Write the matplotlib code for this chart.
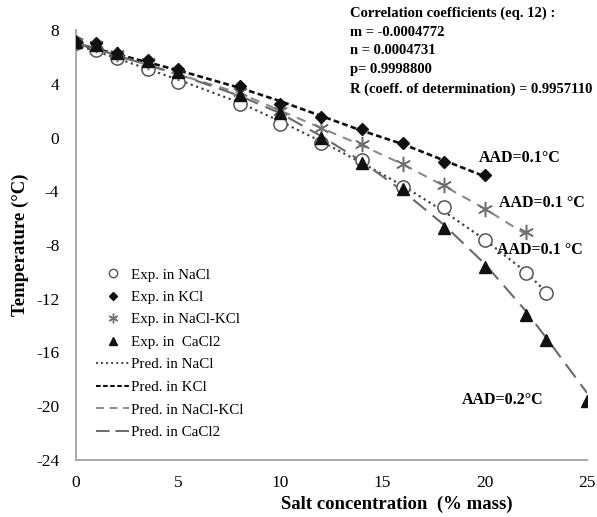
import matplotlib
matplotlib.use("Agg")
import matplotlib.pyplot as plt
from matplotlib.lines import Line2D

plt.rcParams['font.family'] = ['Liberation Serif', 'DejaVu Serif']
plt.rcParams['axes.unicode_minus'] = False

# Experimental freezing temperatures (°C) vs salt concentration (% mass)
x_nacl = [0, 1, 2, 3.5, 5, 8, 10, 12, 14, 16, 18, 20, 22, 23]
t_nacl = [7.0, 6.5, 5.9, 5.1, 4.1, 2.5, 1.0, -0.4, -1.7, -3.7, -5.2, -7.6, -10.1, -11.6]

x_kcl = [0, 1, 2, 3.5, 5, 8, 10, 12, 14, 16, 18, 20]
t_kcl = [7.1, 7.0, 6.3, 5.8, 5.1, 3.8, 2.5, 1.5, 0.6, -0.4, -1.8, -2.8]

x_mix = [0, 1, 2, 3.5, 5, 8, 10, 12, 14, 16, 18, 20, 22]
t_mix = [7.1, 6.9, 6.2, 5.6, 4.8, 3.4, 2.0, 0.7, -0.5, -2.0, -3.5, -5.3, -7.0]

x_cacl2 = [0, 1, 2, 3.5, 5, 8, 10, 12, 14, 16, 18, 20, 22, 23, 25]
t_cacl2 = [7.1, 6.9, 6.3, 5.7, 4.9, 3.2, 1.8, 0.0, -1.9, -3.8, -6.7, -9.6, -13.2, -15.1, -19.6]

# Predicted temperatures (eq. 12)
p_nacl = [6.9, 6.4, 5.9, 5.1, 4.3, 2.6, 1.2, -0.3, -1.9, -3.6, -5.5, -7.6, -10.0, -11.5]
p_kcl = [7.0, 6.6, 6.2, 5.6, 5.0, 3.7, 2.7, 1.6, 0.5, -0.5, -1.7, -2.9]
p_mix = [7.0, 6.6, 6.1, 5.4, 4.7, 3.3, 2.0, 0.7, -0.6, -2.0, -3.6, -5.3, -7.2]
p_cacl2 = [7.0, 6.6, 6.1, 5.4, 4.7, 3.1, 1.8, 0.1, -1.8, -4.0, -6.5, -9.4, -12.9, -14.9, -19.0]

x_ticks = [0, 5, 10, 15, 20, 25]
y_ticks = [-24, -20, -16, -12, -8, -4, 0, 4, 8]

coef_lines = ["Correlation coefficients (eq. 12) :",
              "m = -0.0004772",
              "n = 0.0004731",
              "p= 0.9998800",
              "R (coeff. of determination) = 0.9957110"]

W, H = 597, 517
fig = plt.figure(figsize=(W / 100, H / 100), dpi=100)
ax = fig.add_axes([76 / W, 1 - 460 / H, (587 - 76) / W, (460 - 30) / H])

# prediction curves
ax.plot(x_nacl, p_nacl, color='#444444', lw=1.6, ls=(0, (1, 1.6)), zorder=2)
ax.plot(x_kcl, p_kcl, color='#111111', lw=1.9, ls=(0, (2.2, 1.2)), zorder=2)
ax.plot(x_mix, p_mix, color='#8a8a8a', lw=1.5, ls=(0, (4.5, 3.5)), zorder=2)
ax.plot(x_cacl2, p_cacl2, color='#6a6a6a', lw=1.5, ls=(0, (8, 4)), zorder=2)

# experimental points
ax.plot(x_nacl, t_nacl, ls='none', marker='o', ms=9.5, mfc='white', mec='#555555',
        mew=1.1, zorder=3)
ax.plot(x_mix, t_mix, ls='none', marker=(6, 2, 0), ms=11, mec='#6f6f6f',
        mew=1.1, zorder=4)
ax.plot(x_cacl2, t_cacl2, ls='none', marker='^', ms=8.5, color='#111111', zorder=5)
ax.plot(x_kcl, t_kcl, ls='none', marker='D', ms=6.5, color='#111111', zorder=5)

ax.set_xlim(0, 25)
ax.set_ylim(-24, 8)
ax.set_xticks(x_ticks)
ax.set_yticks(y_ticks)
ax.tick_params(length=0, labelsize=12.5)
ax.tick_params(axis='y', pad=12)
ax.tick_params(axis='x', pad=11)
for s in ['top', 'right']:
    ax.spines[s].set_visible(False)
for s in ['left', 'bottom']:
    ax.spines[s].set_color('#a8a8a8')
    ax.spines[s].set_linewidth(1.4)

fig.text(397 / W, 1 - 504 / H, "Salt concentration  (% mass)", ha='center',
         va='center', fontsize=13.5, fontweight='bold')
fig.text(20 / W, 1 - 245 / H, "Temperature (°C)", ha='center', va='center',
         rotation=90, fontsize=13.5, fontweight='bold')

# AAD annotations
ax.text(19.7, -1.5, "AAD=0.1°C", fontsize=11.5, fontweight='bold', va='center')
ax.text(20.7, -4.9, "AAD=0.1 °C", fontsize=11.5, fontweight='bold', va='center')
ax.text(20.6, -8.4, "AAD=0.1 °C", fontsize=11.5, fontweight='bold', va='center')
ax.text(18.9, -19.5, "AAD=0.2°C", fontsize=11.5, fontweight='bold', va='center')

# correlation coefficients block
for i, line in enumerate(coef_lines):
    fig.text(350 / W, 1 - (13 + 19 * i) / H, line, fontsize=10.5,
             fontweight='bold', va='center', ha='left')

handles = [
    Line2D([], [], ls='none', marker='o', ms=6, mfc='white', mec='#555555', mew=1),
    Line2D([], [], ls='none', marker='D', ms=4.5, color='#111111'),
    Line2D([], [], ls='none', marker=(6, 2, 0), ms=7, mec='#6f6f6f', mew=1),
    Line2D([], [], ls='none', marker='^', ms=6, color='#111111'),
    Line2D([], [], color='#444444', lw=1.4, ls=(0, (1, 1.6))),
    Line2D([], [], color='#111111', lw=1.5, ls=(0, (2.2, 1.2))),
    Line2D([], [], color='#8a8a8a', lw=1.4, ls=(0, (4, 3))),
    Line2D([], [], color='#6a6a6a', lw=1.4, ls=(0, (7, 3))),
]
labels = ["Exp. in NaCl", "Exp. in KCl", "Exp. in NaCl-KCl", "Exp. in  CaCl2",
          "Pred. in NaCl", "Pred. in KCl", "Pred. in NaCl-KCl", "Pred. in CaCl2"]
fig.legend(handles, labels, loc='upper left',
           bbox_to_anchor=(96 / W, 1 - 268 / H), bbox_transform=fig.transFigure,
           frameon=False, fontsize=10.8, handlelength=2.2, handletextpad=0.15,
           labelspacing=0.6, borderpad=0, borderaxespad=0)

fig.savefig("out.png", dpi=100)
